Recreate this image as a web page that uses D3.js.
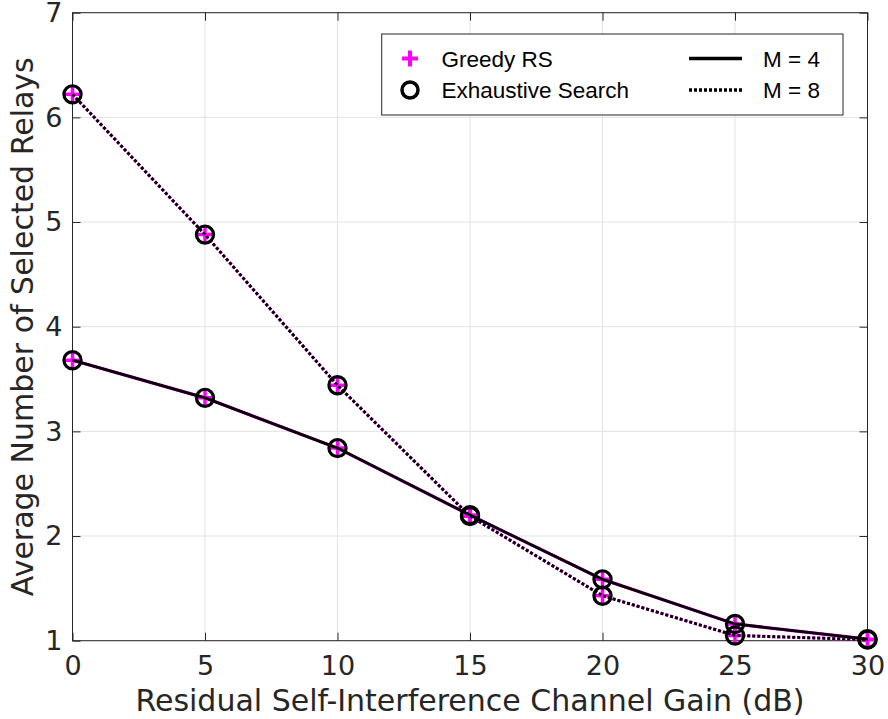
<!DOCTYPE html>
<html>
<head>
<meta charset="utf-8">
<script src="https://d3js.org/d3.v7.min.js"></script>
<style>
  body { margin: 0; background: #fff; }
  svg { display: block; }
  .tick text { font-family: "DejaVu Sans", sans-serif; fill: #262626; }
</style>
</head>
<body>
<svg width="888" height="719"></svg>
<script>
// **** Data ****
var gainDb = [0, 5, 10, 15, 20, 25, 30];
var relaysM4 = [3.68, 3.32, 2.84, 2.20, 1.586, 1.16, 1.015];
var relaysM8 = [6.22, 4.88, 3.44, 2.19, 1.43, 1.05, 1.01];
var xTicks = [0, 5, 10, 15, 20, 25, 30];
var yTicks = [1, 2, 3, 4, 5, 6, 7];

var svg = d3.select('svg');
var axisColor = '#262626';

// **** Scales ****
var xScale = d3.scaleLinear().domain([0, 30]).range([72.5, 867.5]);
var yScale = d3.scaleLinear().domain([1, 7]).range([640.7, 12.7]);

var x0 = xScale.range()[0], x1 = xScale.range()[1];
var y0 = yScale.range()[0], y1 = yScale.range()[1];

// grid
var grid = svg.append('g').attr('class', 'grid');
grid.selectAll('.gx').data(xTicks).enter().append('line')
    .attr('x1', function(d){ return xScale(d); })
    .attr('x2', function(d){ return xScale(d); })
    .attr('y1', y0).attr('y2', y1)
    .attr('stroke', '#e3e3e3').attr('stroke-width', 1);
grid.selectAll('.gy').data(yTicks).enter().append('line')
    .attr('y1', function(d){ return yScale(d); })
    .attr('y2', function(d){ return yScale(d); })
    .attr('x1', x0).attr('x2', x1)
    .attr('stroke', '#e3e3e3').attr('stroke-width', 1);

// **** Axes ****
function styleAxis(g) {
    g.select('.domain').remove();
    g.selectAll('.tick line').attr('stroke', axisColor);
}

svg.append('g').attr('class', 'x axis')
    .attr('transform', 'translate(0,' + y0 + ')')
    .call(d3.axisBottom(xScale).tickValues(xTicks).tickFormat(d3.format('d'))
        .tickSizeInner(-8).tickSizeOuter(0).tickPadding(15))
    .call(styleAxis)
    .selectAll('text').attr('font-size', 27);

svg.append('g')
    .attr('transform', 'translate(0,' + y1 + ')')
    .call(d3.axisTop(xScale).tickValues(xTicks).tickSizeInner(-8).tickSizeOuter(0).tickFormat(''))
    .call(styleAxis);

svg.append('g').attr('class', 'y axis')
    .attr('transform', 'translate(' + x0 + ',0)')
    .call(d3.axisLeft(yScale).tickValues(yTicks).tickFormat(d3.format('d'))
        .tickSizeInner(-8).tickSizeOuter(0).tickPadding(10))
    .call(styleAxis)
    .selectAll('text').attr('font-size', 27);

svg.append('g')
    .attr('transform', 'translate(' + x1 + ',0)')
    .call(d3.axisRight(yScale).tickValues(yTicks).tickSizeInner(-8).tickSizeOuter(0).tickFormat(''))
    .call(styleAxis);

// box
svg.append('rect')
    .attr('x', x0).attr('y', y1)
    .attr('width', x1 - x0).attr('height', y0 - y1)
    .attr('fill', 'none').attr('stroke', axisColor).attr('stroke-width', 1);

// **** Series ****
var series = [
    { values: relaysM4, dash: null },
    { values: relaysM8, dash: '3,2' }
];

var line = d3.line()
    .x(function(d, i){ return xScale(gainDb[i]); })
    .y(function(d){ return yScale(d); });

function plusPath(s) {
    return 'M' + (-s) + ',0H' + s + 'M0,' + (-s) + 'V' + s;
}

// Greedy RS (magenta) first, Exhaustive search (black) on top
series.forEach(function(s){
    svg.append('path')
        .attr('d', line(s.values))
        .attr('fill', 'none')
        .attr('stroke', '#ff00ff')
        .attr('stroke-width', 3.2)
        .attr('stroke-dasharray', s.dash);
    svg.selectAll(null).data(s.values).enter().append('path')
        .attr('d', plusPath(7.5))
        .attr('transform', function(d, i){ return 'translate(' + xScale(gainDb[i]) + ',' + yScale(d) + ')'; })
        .attr('stroke', '#ff00ff').attr('stroke-width', 3.5).attr('fill', 'none');
});
series.forEach(function(s){
    svg.append('path')
        .attr('d', line(s.values))
        .attr('fill', 'none')
        .attr('stroke', '#000')
        .attr('stroke-width', 2.8)
        .attr('stroke-dasharray', s.dash);
    svg.selectAll(null).data(s.values).enter().append('circle')
        .attr('cx', function(d, i){ return xScale(gainDb[i]); })
        .attr('cy', function(d){ return yScale(d); })
        .attr('r', 8.6)
        .attr('fill', 'none').attr('stroke', '#000').attr('stroke-width', 3.2);
});

// **** Labels ****
svg.append('text')
    .attr('x', (x0 + x1) / 2).attr('y', 711)
    .attr('text-anchor', 'middle')
    .attr('font-family', 'DejaVu Sans, sans-serif')
    .attr('font-size', 30).attr('fill', axisColor)
    .text('Residual Self-Interference Channel Gain (dB)');

svg.append('text')
    .attr('transform', 'translate(33,' + ((y0 + y1) / 2) + ') rotate(-90)')
    .attr('text-anchor', 'middle')
    .attr('font-family', 'DejaVu Sans, sans-serif')
    .attr('font-size', 30).attr('fill', axisColor)
    .text('Average Number of Selected Relays');

// **** Legend ****
var legend = svg.append('g');
legend.append('rect')
    .attr('x', 381.7).attr('y', 34).attr('width', 461.3).attr('height', 81)
    .attr('fill', '#fff').attr('stroke', axisColor).attr('stroke-width', 1);

var legendFont = 'Liberation Sans, Arial, sans-serif';
var rowY = [58.5, 90];

legend.append('path').attr('d', plusPath(8))
    .attr('transform', 'translate(410,' + rowY[0] + ')')
    .attr('stroke', '#ff00ff').attr('stroke-width', 4).attr('fill', 'none');
legend.append('circle').attr('cx', 410).attr('cy', rowY[1]).attr('r', 8)
    .attr('fill', 'none').attr('stroke', '#000').attr('stroke-width', 3.5);

var legendTexts = ['Greedy RS', 'Exhaustive Search'];
legendTexts.forEach(function(t, i){
    legend.append('text').attr('x', 441.5).attr('y', rowY[i]).attr('dy', '0.36em')
        .attr('font-family', legendFont).attr('font-size', 22.5).attr('fill', '#000')
        .text(t);
});

var mLabels = ['M = 4', 'M = 8'];
[null, '3,2'].forEach(function(dash, i){
    legend.append('line')
        .attr('x1', 689).attr('x2', 742)
        .attr('y1', rowY[i]).attr('y2', rowY[i])
        .attr('stroke', '#000').attr('stroke-width', 3.3)
        .attr('stroke-dasharray', dash);
    legend.append('text').attr('x', 763).attr('y', rowY[i]).attr('dy', '0.36em')
        .attr('font-family', legendFont).attr('font-size', 22.5).attr('fill', '#000')
        .text(mLabels[i]);
});
</script>
</body>
</html>
